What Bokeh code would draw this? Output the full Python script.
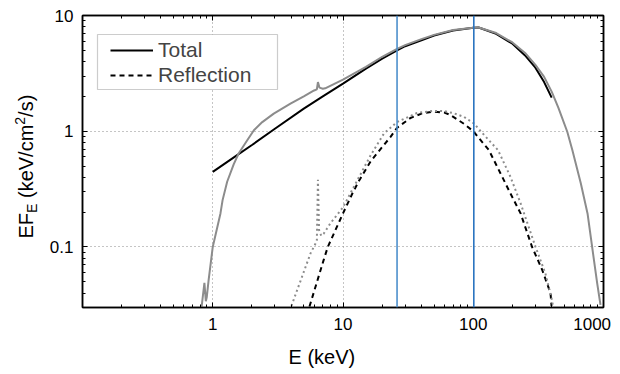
from bokeh.plotting import figure
from bokeh.layouts import row
from bokeh.models import (LogAxis, FixedTicker, BoxAnnotation, Legend, LegendItem,
                          Span, Range1d, CustomJSTickFormatter, Title)
from bokeh.core.properties import value
from bokeh.embed import file_html
from bokeh.resources import INLINE
import math

# ---------------- data ----------------
total_E = [1, 1.5, 2, 3, 5, 7, 10, 15, 20, 26, 30, 40, 50, 70, 100, 110, 150, 200, 250, 300, 350, 400]
total_F = [0.446, 0.61, 0.76, 1.05, 1.57, 2.0, 2.58, 3.47, 4.24, 5.0, 5.43, 6.09, 6.72, 7.43, 7.83, 7.87,
           6.95, 5.70, 4.52, 3.54, 2.66, 1.95]

obs_E = [0.82, 0.863, 0.885, 0.90, 0.93, 1.0, 1.146, 1.19, 1.29, 1.45, 1.58, 1.84, 2.07, 2.4, 2.94, 3.95,
         5.0, 6.0, 6.3, 6.42, 6.6, 7.0, 7.3, 10, 15, 20, 26, 30, 40, 50, 70, 100, 110, 150, 200, 250, 300,
         350, 400, 450, 527, 577, 670, 754, 818, 894, 948]
obs_F = [0.03, 0.049, 0.034, 0.037, 0.052, 0.1, 0.195, 0.254, 0.366, 0.52, 0.642, 0.836, 1.02, 1.2, 1.42, 1.73,
         2.0, 2.25, 2.3, 2.66, 2.38, 2.33, 2.35, 2.79, 3.6, 4.4, 5.15, 5.55, 6.25, 6.8, 7.5, 7.85, 7.88, 7.05,
         5.85, 4.75, 3.75, 2.95, 2.2, 1.6, 0.99, 0.686, 0.354, 0.195, 0.10, 0.0487, 0.0316]

refl_E = [5.53, 7.1, 7.64, 10, 11.8, 13.2, 16.3, 20, 23.1, 26, 32.9, 40, 49.6, 60, 67, 84.8, 100, 132, 162,
          193, 231, 283, 338, 392, 399]
refl_F = [0.0306, 0.077, 0.1, 0.195, 0.29, 0.37, 0.55, 0.73, 0.89, 1.07, 1.30, 1.42, 1.48, 1.45, 1.38, 1.16,
          1.0, 0.686, 0.432, 0.29, 0.195, 0.1, 0.0636, 0.04, 0.031]

reflobs_E = [4.02, 4.72, 5.63, 6.1, 6.3, 6.42, 6.55, 6.8, 7.1, 8, 10, 12.1, 16.3, 20.6, 26, 37.1, 49.6, 60,
             71, 85, 101, 114, 155, 193, 231, 301, 358, 404, 410]
reflobs_F = [0.031, 0.051, 0.088, 0.105, 0.115, 0.38, 0.14, 0.125, 0.13, 0.16, 0.22, 0.33, 0.62, 0.955, 1.20,
             1.44, 1.50, 1.49, 1.43, 1.33, 1.17, 1.0, 0.686, 0.404, 0.238, 0.1, 0.059, 0.034, 0.03]

marker_E = [26, 101]
marker_colors = ["#4d8fcc", "#2a74c0"]

x_major = [1, 10, 100, 1000]
y_major = [0.1, 1, 10]
x_minor = [m * 10.0 ** k for k in range(-1, 3) for m in range(2, 10)]
y_minor = [m * 10.0 ** k for k in range(-2, 1) for m in range(2, 10) if m * 10.0 ** k > 0.03]

x_title = "E (keV)"
# y title pieces: EF_E (keV/cm^2/s)
y_main_text = ["EF", "(keV/cm", "/s)"]
y_small_text = ["E", "2"]

FONT = "Liberation Sans"
GREY = "#8c8c8c"
H = 374
B_TOP, B_BOTTOM = 15, 67

p = figure(width=580, height=H, x_axis_type="log", y_axis_type="log",
           x_range=Range1d(0.1, 1000), y_range=Range1d(0.03, 10),
           output_backend="svg", toolbar_location=None,
           min_border_left=42, min_border_right=17, min_border_top=B_TOP, min_border_bottom=B_BOTTOM)
p.background_fill_color = "white"
p.border_fill_color = "white"
p.outline_line_color = "black"
p.outline_line_width = 1.5

xt = FixedTicker(ticks=x_major, minor_ticks=x_minor)
yt = FixedTicker(ticks=y_major, minor_ticks=y_minor)
xfmt = CustomJSTickFormatter(code="return tick >= 1000 ? '1000\\u00a0\\u00a0' : String(tick);")
yfmt = CustomJSTickFormatter(code="return String(tick);")


def style_axis(ax, show_labels):
    ax.axis_line_color = "black"
    ax.axis_line_width = 1.5
    ax.major_tick_in = 5
    ax.major_tick_out = 0
    ax.minor_tick_in = 3
    ax.minor_tick_out = 0
    ax.major_tick_line_color = "black"
    ax.minor_tick_line_color = "black"
    ax.major_label_text_font = FONT
    ax.major_label_text_color = "black"
    if show_labels:
        ax.major_label_text_font_size = "17px"
    else:
        ax.major_label_text_font_size = "0px"
        ax.major_label_standoff = 0


p.xaxis.ticker = xt
p.yaxis.ticker = yt
p.xaxis.formatter = xfmt
p.yaxis.formatter = yfmt
for ax in p.xaxis:
    style_axis(ax, True)
    ax.major_label_standoff = 7
for ax in p.yaxis:
    style_axis(ax, True)
    ax.major_label_standoff = 9

top = LogAxis(ticker=FixedTicker(ticks=x_major, minor_ticks=x_minor), major_label_text_alpha=0)
style_axis(top, False)
right = LogAxis(ticker=FixedTicker(ticks=y_major, minor_ticks=y_minor), major_label_text_alpha=0)
style_axis(right, False)
p.add_layout(top, "above")
p.add_layout(right, "right")

p.xgrid.ticker = xt
p.ygrid.ticker = yt
for g in (p.xgrid, p.ygrid):
    g.grid_line_color = "#8a8a8a"
    g.grid_line_dash = "1 3"
    g.grid_line_width = 1

r_total = p.line(total_E, total_F, line_color="black", line_width=2)
r_obs = p.line(obs_E, obs_F, line_color=GREY, line_width=2)
r_refl = p.line(refl_E, refl_F, line_color="black", line_width=2, line_dash="5 4")
r_reflobs = p.line(reflobs_E, reflobs_F, line_color=GREY, line_width=2, line_dash="2 3")

for e, c in zip(marker_E, marker_colors):
    p.add_layout(Span(location=e, dimension="height", line_color=c, line_width=1.6))

# legend frame
box = BoxAnnotation(left=15, right=195, top=273, bottom=218,
                    left_units="screen", right_units="screen", top_units="screen", bottom_units="screen",
                    fill_color="white", fill_alpha=1.0, line_color="#555555", line_width=1.2)
p.add_layout(box)

legend = Legend(items=[LegendItem(label="Total", renderers=[r_total]),
                       LegendItem(label="Reflection", renderers=[r_refl])],
                location=(28, 220), padding=0, spacing=1, margin=0,
                glyph_width=43, glyph_height=24, label_height=24, label_standoff=5,
                label_text_font=FONT, label_text_font_size="21px",
                background_fill_alpha=0, border_line_alpha=0)
p.add_layout(legend)

# x axis title
p.add_layout(Title(text=x_title, align="left", offset=206, standoff=14,
                   text_font=FONT, text_font_size="20px", text_font_style="normal",
                   text_color="black"), "below")

# strip on the left holding the y axis title; its frame is aligned with the main frame,
# so its y range is expressed as (canvas height - pixel row)
strip = figure(width=40, height=H, x_range=Range1d(0, 40), y_range=Range1d(B_BOTTOM, H - B_TOP),
               output_backend="svg", toolbar_location=None,
               min_border_left=0, min_border_right=0, min_border_top=B_TOP, min_border_bottom=B_BOTTOM,
               x_axis_location=None, y_axis_location=None)
strip.outline_line_color = None
strip.grid.visible = False
strip.background_fill_color = "white"
strip.border_fill_color = "white"
strip.text(x=[25, 25, 25], y=[136, 176.5, 257.6], text=y_main_text, angle=math.pi / 2,
           text_font=value(FONT), text_font_size="20px", text_align="left",
           text_baseline="middle", text_color="black")
strip.text(x=[31, 19], y=[161.6, 249.8], text=y_small_text, angle=math.pi / 2,
           text_font=value(FONT), text_font_size="14px", text_align="left",
           text_baseline="middle", text_color="black")

layout = row(strip, p)
open("out.html", "w").write(file_html(layout, INLINE))
